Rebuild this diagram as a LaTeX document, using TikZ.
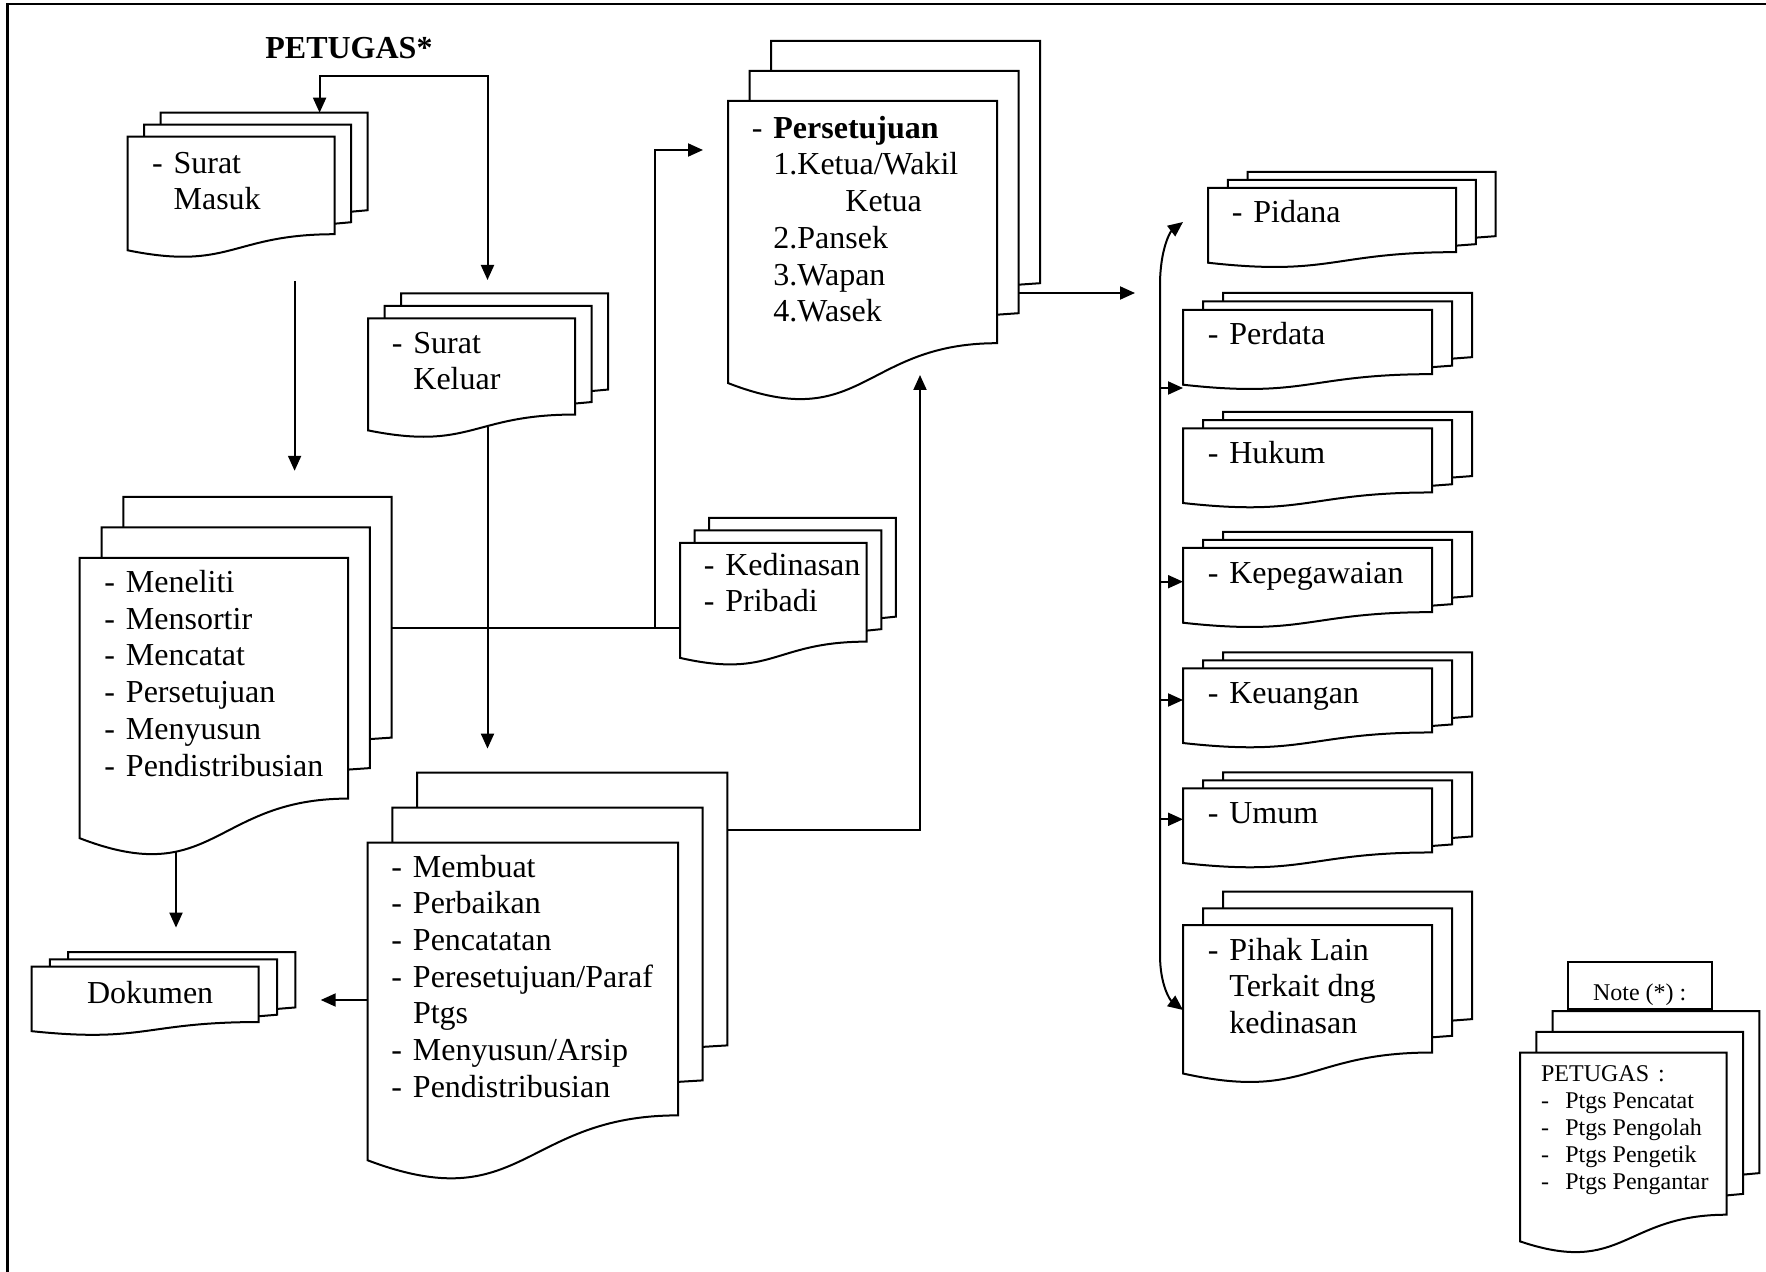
\documentclass[tikz,border=0pt]{standalone}
\usepackage{fontspec}
\setmainfont{Liberation Serif}
\usetikzlibrary{arrows.meta,calc}

% list helpers: a hyphen in a fixed-width slot, and the matching indent
\newcommand\dl{\makebox[10.8pt][l]{-}}
\newcommand\ind{\hspace*{10.8pt}}
\newcommand\ndl{\makebox[12.1pt][l]{-}}
\def\pxu{0.5pt}

\tikzset{
  ftip/.tip={Triangle[length=7.5pt,width=6.5pt]},
  page/.style={draw, line width=1pt, fill=white, line join=miter},
  hull/.style={shape=rectangle, inner sep=0pt, outer sep=0pt, anchor=north west},
  link/.style={line width=1pt},
  arr/.style={link, -ftip},
  twoway/.style={link, ftip-ftip},
  doctext/.style={anchor=base west, inner sep=0pt, font=\fontsize{16}{18.35}\selectfont},
  notetext/.style={anchor=base west, inner sep=0pt, font=\fontsize{12}{13.5}\selectfont},
}

% stacked document symbol: name, left, top, width, height, dx, dy (all in px)
\newcommand\multidoc[7]{%
  \pgfmathsetmacro\mdL{#2}%
  \pgfmathsetmacro\mdT{#3}%
  \pgfmathsetmacro\mdW{#4}%
  \pgfmathsetmacro\mdH{#5}%
  \pgfmathsetmacro\mdDX{#6}%
  \pgfmathsetmacro\mdDY{#7}%
  \pgfmathsetmacro\mdR{\mdL+\mdW}%
  \pgfmathsetmacro\mdM{\mdL+0.5*\mdW}%
  \pgfmathsetmacro\mdBR{\mdT+0.802*\mdH}%
  \pgfmathsetmacro\mdBL{\mdT+0.934*\mdH}%
  \pgfmathsetmacro\mdLow{\mdT+1.107*\mdH}%
  \foreach \k in {2,1}{%
    \pgfmathsetmacro\bpL{\mdL+\k*\mdDX}%
    \pgfmathsetmacro\bpT{\mdT+\k*\mdDY}%
    \pgfmathsetmacro\bpR{\mdR+\k*\mdDX}%
    \pgfmathsetmacro\bpB{\mdBR+\k*\mdDY}%
    \pgfmathsetmacro\bpJ{\mdR+(\k-1)*\mdDX}%
    \pgfmathsetmacro\bpD{\bpB+1.5}%
    \draw[page] (\bpL,\bpD) -- (\bpL,\bpT) -- (\bpR,\bpT) -- (\bpR,\bpB) -- (\bpJ,\bpD) -- cycle;
    \node[hull, minimum width=\mdW*\pxu, minimum height=(\bpB-\bpT)*\pxu] (#1-p\k) at (\bpL,\bpT) {};
  }%
  \draw[page] (\mdL,\mdT) -- (\mdR,\mdT) -- (\mdR,\mdBR)
     .. controls (\mdM,\mdBR) and (\mdM,\mdLow) .. (\mdL,\mdBL) -- cycle;
  \node[hull, minimum width=\mdW*\pxu, minimum height=(\mdBL-\mdT)*\pxu] (#1) at (\mdL,\mdT) {};
}

\begin{document}
\begin{tikzpicture}[x=0.5pt, y=-0.5pt]
\useasboundingbox (0,0) rectangle (1766,1272);

% outer frame
\draw[line width=1.3pt] (7.5,1272) -- (7.5,4) -- (1766,4);

% document stacks
\multidoc{masuk}{127.5}{136.7}{207}{121.6}{16.6}{-12}
\multidoc{keluar}{368}{318.3}{207}{120}{16.6}{-12.5}
\multidoc{persetujuan}{728}{101}{269}{302}{21.5}{-30}
\multidoc{meneliti}{79.7}{558}{268.3}{300}{21.8}{-30.5}
\multidoc{kedinasan}{680}{543}{186.7}{123}{14.6}{-12.5}
\multidoc{membuat}{367.6}{842.7}{310.4}{340}{24.7}{-35}
\multidoc{dokumen}{31.5}{966.7}{227.2}{69}{18.3}{-7.3}
\multidoc{pidana}{1208}{188}{248}{80}{19.8}{-8}
\multidoc{perdata}{1183}{310}{249}{80}{20}{-8.5}
\multidoc{hukum}{1183}{428.3}{249}{80}{20}{-8.2}
\multidoc{kepeg}{1183}{548}{249}{80}{20}{-8}
\multidoc{keuangan}{1183}{668.3}{249}{80}{20}{-8}
\multidoc{umum}{1183}{788.3}{249}{80}{20}{-8}
\multidoc{pihak}{1183}{925}{249}{159}{20}{-16.7}
\multidoc{note}{1520}{1052.7}{206.7}{202}{16.3}{-20.8}

% texts
\node[doctext, font=\fontsize{16}{18.35}\selectfont\bfseries] (petugas) at (265,59) {PETUGAS*};
\node[doctext] (tMasuk) at (151.6,173.3) {\begin{tabular}[t]{@{}l@{}}\dl Surat\\ \ind Masuk\end{tabular}};
\node[doctext] (tKeluar) at (391.4,353.3) {\begin{tabular}[t]{@{}l@{}}\dl Surat\\ \ind Keluar\end{tabular}};
\node[doctext] (tPers) at (751.4,138.3) {\begin{tabular}[t]{@{}l@{}}\dl\textbf{Persetujuan}\\
  \ind 1.Ketua/Wakil\\ \hspace*{46.8pt}Ketua\\ \ind 2.Pansek\\ \ind 3.Wapan\\ \ind 4.Wasek\end{tabular}};
\node[doctext] (tMeneliti) at (104,592.5) {\begin{tabular}[t]{@{}l@{}}\dl Meneliti\\ \dl Mensortir\\
  \dl Mencatat\\ \dl Persetujuan\\ \dl Menyusun\\ \dl Pendistribusian\end{tabular}};
\node[doctext] (tKedinasan) at (703.4,575) {\begin{tabular}[t]{@{}l@{}}\dl Kedinasan\\ \dl Pribadi\end{tabular}};
\node[doctext] (tMembuat) at (391,877) {\begin{tabular}[t]{@{}l@{}}\dl Membuat\\ \dl Perbaikan\\
  \dl Pencatatan\\ \dl Peresetujuan/Paraf\\ \ind Ptgs\\ \dl Menyusun/Arsip\\ \dl Pendistribusian\end{tabular}};
\node[doctext] (tDokumen) at (86.6,1003) {Dokumen};
\node[doctext] (tPidana) at (1231.4,223) {\dl Pidana};
\node[doctext] (tPerdata) at (1207.4,345) {\dl Perdata};
\node[doctext] (tHukum) at (1207.4,463.3) {\dl Hukum};
\node[doctext] (tKepeg) at (1207.4,583) {\dl Kepegawaian};
\node[doctext] (tKeuangan) at (1207.4,703.3) {\dl Keuangan};
\node[doctext] (tUmum) at (1207.4,823.3) {\dl Umum};
\node[doctext] (tPihak) at (1207.4,960) {\begin{tabular}[t]{@{}l@{}}\dl Pihak Lain\\ \ind Terkait dng\\ \ind kedinasan\end{tabular}};

% note
\node[draw, line width=1pt, hull, minimum width=144*\pxu, minimum height=47.3*\pxu] (noteHead) at (1567.7,961.7) {};
\node[notetext, anchor=base] (noteLabel) at (noteHead.center |- 0,1000) {Note (*) :};
\node[notetext] (tNote) at (1540.7,1081.7) {\begin{tabular}[t]{@{}l@{}}PETUGAS\hspace{4.5pt}:\\
  \ndl Ptgs Pencatat\\ \ndl Ptgs Pengolah\\ \ndl Ptgs Pengetik\\ \ndl Ptgs Pengantar\end{tabular}};

% connector end points
\coordinate (loopL) at (319.6,76);
\coordinate (loopR) at (487.5,76);
\coordinate (keluarIn) at (487.5,280);
\coordinate (masukOut) at (294.6,281);
\coordinate (menelitiIn) at (294.6,470.8);
\coordinate (keluarOut) at (487.5,427);
\coordinate (membuatIn) at (487.5,748.6);
\coordinate (hub) at (655,628);
\coordinate (persIn) at (703,150);
\coordinate (menelitiOut) at (176,852);
\coordinate (dokIn) at (176,927.6);
\coordinate (dokSide) at (320.7,1000);
\coordinate (persUp) at (920,375);
\coordinate (persOut) at (1135,293);
\coordinate (pidIn) at (1183,222);
\coordinate (pihakIn) at (1183,1010);

% connectors
\draw[twoway] (masuk-p2.north -| loopL) |- (loopR) -- (keluarIn);
\draw[arr] (masukOut) -- (menelitiIn);
\draw[arr] (keluarOut) -- (membuatIn);
\draw[link] (meneliti-p2.east |- hub) -- (kedinasan.west |- hub);
\draw[arr] (hub) |- (persIn);
\draw[arr] (menelitiOut) -- (dokIn);
\draw[arr] (membuat.west |- dokSide) -- (dokSide);
\draw[arr] (membuat-p2.east |- 0,830) -| (persUp);
\draw[arr] (persetujuan-p1.east |- persOut) -- (persOut);
\draw[twoway] (pidIn) .. controls (1170,232) and (1160,250) .. (1160,285)
   -- (1160,955) .. controls (1160,985) and (1170,1000) .. (pihakIn);
\foreach \n/\y in {perdata/388, kepeg/581.7, keuangan/700, umum/819.3}
  \draw[arr] (1160,\y) -- (\n.west |- 0,\y);
\end{tikzpicture}
\end{document}
